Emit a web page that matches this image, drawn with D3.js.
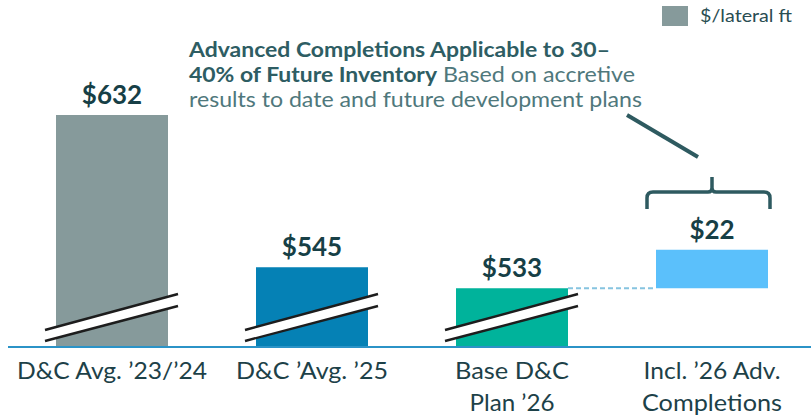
<!DOCTYPE html>
<html>
<head>
<meta charset="utf-8">
<script src="https://cdn.jsdelivr.net/npm/d3@7"></script>
<style>
  html, body { margin: 0; padding: 0; background: #ffffff; }
  svg { display: block; font-family: Lato, "Noto Sans", sans-serif; }
</style>
</head>
<body>
<svg id="chart" width="811" height="418"></svg>
<script>
// ---- data ----
const categories = ["D&C Avg. \u201923/\u201924", "D&C \u2019Avg. \u201925", "Base D&C\nPlan \u201926", "Incl. \u201926 Adv.\nCompletions"];
const values = [632, 545, 533, 22];
const isIncrement = [false, false, false, true];
const valueLabels = ["$632", "$545", "$533", "$22"];
const barColors = ["#869a9b", "#0581b5", "#00b39b", "#5bc0fb"];
const legendLabel = "$/lateral ft";
const annotationBold1 = "Advanced Completions Applicable to 30\u2013";
const annotationBold2 = "40% of Future Inventory";
const annotationReg2 = "Based on accretive";
const annotationReg3 = "results to date and future development plans";

// ---- layout (text fitting widths, px) ----
const catLineWidths = [[190], [152], [114, 85], [137, 140]];

const W = 811, H = 418;
const svg = d3.select("#chart");
const baseY = 346;

const x = d3.scaleBand().domain(categories).range([12, 812]).paddingInner(0.44).paddingOuter(0.22);
const y = d3.scaleLinear().domain([500, 632]).range([baseY, 115]);

function fit(sel, w) {
  sel.attr("textLength", w).attr("lengthAdjust", "spacingAndGlyphs");
  return sel;
}

const bars = categories.map((c, i) => {
  let lo, hi;
  if (isIncrement[i]) { lo = values[i - 1]; hi = values[i - 1] + values[i]; }
  else { lo = y.domain()[0]; hi = values[i]; }
  return { cat: c, lo, hi, color: barColors[i], label: valueLabels[i], inc: isIncrement[i] };
});

svg.append("g").selectAll("rect").data(bars).join("rect")
  .attr("x", d => x(d.cat))
  .attr("width", x.bandwidth())
  .attr("y", d => y(d.hi))
  .attr("height", d => y(d.lo) - y(d.hi))
  .attr("fill", d => d.color);

const brk = svg.append("g");
bars.filter(d => !d.inc).forEach(d => {
  const x0 = x(d.cat) - 11, x1 = x(d.cat) + x.bandwidth() + 10;
  brk.append("path")
    .attr("d", `M${x0},${baseY - 16}L${x1},${baseY - 52}L${x1},${baseY - 40}L${x0},${baseY - 5}Z`)
    .attr("fill", "#ffffff");
  brk.append("line").attr("x1", x0).attr("y1", baseY - 16).attr("x2", x1).attr("y2", baseY - 52)
    .attr("stroke", "#1d1d1d").attr("stroke-width", 2.4);
  brk.append("line").attr("x1", x0).attr("y1", baseY - 5).attr("x2", x1).attr("y2", baseY - 40)
    .attr("stroke", "#1d1d1d").attr("stroke-width", 2.4);
});

const b3 = bars[2], b4 = bars[3];
svg.append("line")
  .attr("x1", x(b3.cat) + x.bandwidth()).attr("x2", x(b4.cat))
  .attr("y1", y(b3.hi)).attr("y2", y(b3.hi))
  .attr("stroke", "#86c4e0").attr("stroke-width", 2).attr("stroke-dasharray", "5,3");

svg.append("line").attr("x1", 8).attr("x2", W).attr("y1", baseY + 1).attr("y2", baseY + 1)
  .attr("stroke", "#2b93c7").attr("stroke-width", 2);

svg.append("g").selectAll("text").data(bars).join("text")
  .attr("x", d => x(d.cat) + x.bandwidth() / 2)
  .attr("y", d => y(d.hi) - 11)
  .attr("text-anchor", "middle")
  .attr("font-size", 26).attr("font-weight", 700)
  .attr("fill", "#173f46")
  .text(d => d.label);

// category labels
const catG = svg.append("g").attr("font-size", 22.5).attr("fill", "#1d4148");
categories.forEach((c, ci) => {
  const cx = x(c) + x.bandwidth() / 2;
  c.split("\n").forEach((ln, li) => {
    const w = catLineWidths[ci][li];
    fit(catG.append("text").attr("x", cx - w / 2).attr("y", 379 + li * 32).text(ln), w);
  });
});

// bracket
const bx0 = x(b4.cat) - 9, bx1 = x(b4.cat) + x.bandwidth() + 2, bxc = x(b4.cat) + x.bandwidth() / 2;
const by = 192, r = 6;
svg.append("path")
  .attr("d", `M${bx0},${by + 17}L${bx0},${by + r}Q${bx0},${by} ${bx0 + r},${by}L${bxc - 4},${by}Q${bxc},${by} ${bxc},${by - 4}L${bxc},${by - 15}` +
             `M${bxc},${by - 4}Q${bxc},${by} ${bxc + 4},${by}L${bx1 - r},${by}Q${bx1},${by} ${bx1},${by + r}L${bx1},${by + 17}`)
  .attr("fill", "none").attr("stroke", "#2e5a60").attr("stroke-width", 3.5);

svg.append("line").attr("x1", 627).attr("y1", 115).attr("x2", 698).attr("y2", 157)
  .attr("stroke", "#2e5a60").attr("stroke-width", 4);

// annotation
const ann = svg.append("g").attr("font-size", 21);
fit(ann.append("text").attr("x", 189).attr("y", 57).attr("font-weight", 700).attr("fill", "#2e5d63").text(annotationBold1), 421);
fit(ann.append("text").attr("x", 189).attr("y", 82).attr("font-weight", 700).attr("fill", "#2e5d63").text(annotationBold2), 248);
fit(ann.append("text").attr("x", 443).attr("y", 82).attr("font-weight", 400).attr("fill", "#4f787c").text(annotationReg2), 192);
fit(ann.append("text").attr("x", 189).attr("y", 107).attr("font-weight", 400).attr("fill", "#4f787c").text(annotationReg3), 453);

// legend
const lg = svg.append("g");
lg.append("rect").attr("x", 662).attr("y", 6).attr("width", 26).attr("height", 20).attr("fill", barColors[0]);
fit(lg.append("text").attr("x", 700).attr("y", 22).attr("font-size", 16.5).attr("fill", "#2a4d52").text(legendLabel), 92);
</script>
</body>
</html>
